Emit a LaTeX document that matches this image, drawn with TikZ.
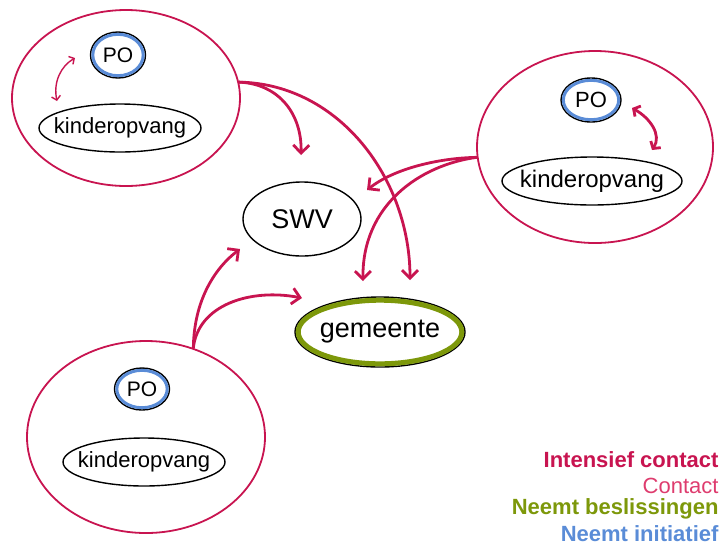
\documentclass[tikz,border=0pt]{standalone}
\usepackage{fontspec}
\setmainfont{Liberation Sans}
\usetikzlibrary{shapes.geometric,arrows.meta}
\definecolor{crim}{RGB}{200,20,80}
\definecolor{lcrim}{RGB}{222,60,110}
\definecolor{olivegreen}{RGB}{125,152,10}
\definecolor{poblue}{RGB}{90,140,215}
\begin{document}
\begin{tikzpicture}[x=1pt,y=-1pt,
  group/.style={ellipse, draw=crim, line width=1.8pt, inner sep=0pt},
  actor/.style={ellipse, draw=black, line width=1.4pt, inner sep=0pt},
  poring/.style={poblue, line width=3pt},
  gemring/.style={olivegreen, line width=5pt},
  conn/.style={crim, line width=2.8pt, line cap=round, -{Straight Barb[length=8pt,width=16pt]}},
  thinconn/.style={crim, line width=1.4pt, line cap=round, {Straight Barb[length=4pt,width=9pt]}-{Straight Barb[length=4pt,width=9pt]}},
  thickconn/.style={crim, line width=2.8pt, line cap=round, {Straight Barb[length=5pt,width=12pt]}-{Straight Barb[length=5pt,width=12pt]}},
  legend/.style={anchor=base east, font=\fontsize{22}{24}\selectfont}
]
\useasboundingbox (0,0) rectangle (722,547);

% group ellipses
\node[group, minimum width=228, minimum height=176] (tl) at (126,98) {};
\node[group, minimum width=236, minimum height=192] (tr) at (595,147) {};
\node[group, minimum width=238, minimum height=192] (bl) at (146,437) {};

% PO nodes
\node[actor, minimum width=55, minimum height=46, font=\fontsize{21}{24}\selectfont] (p1) at (118,55) {PO};
\draw[poring] (p1.center) ellipse [x radius=25.2pt, y radius=20.7pt];
\node[actor, minimum width=60, minimum height=44, font=\fontsize{22}{24}\selectfont] (p2) at (591,100) {PO};
\draw[poring] (p2.center) ellipse [x radius=27.7pt, y radius=19.7pt];
\node[actor, minimum width=55, minimum height=42, font=\fontsize{21}{24}\selectfont] (p3) at (142,389) {PO};
\draw[poring] (p3.center) ellipse [x radius=25.2pt, y radius=18.7pt];

% kinderopvang nodes
\node[actor, inner xsep=-9pt, minimum width=162, minimum height=48, font=\fontsize{22}{24}\selectfont] (k1) at (120,128) {kinderopvang};
\node[actor, inner xsep=-10pt, minimum width=180, minimum height=48, font=\fontsize{24}{26}\selectfont] (k2) at (592,181) {kinderopvang};
\node[actor, inner xsep=-9pt, minimum width=162, minimum height=48, font=\fontsize{22}{24}\selectfont] (k3) at (144,462) {kinderopvang};

% central nodes
\node[actor, minimum width=118, minimum height=74, font=\fontsize{27}{30}\selectfont] (swv) at (302,219) {SWV};
\node[actor, inner xsep=-3pt, minimum width=170, minimum height=70, font=\fontsize{27}{30}\selectfont] (gem) at (380,332) {gemeente};
\draw[gemring] (gem.center) ellipse [x radius=81.8pt, y radius=31.8pt];

% free arrow ends
\coordinate (e1) at (301,155);
\coordinate (e2) at (410,280);
\coordinate (e3) at (367,190);
\coordinate (e4) at (363,281);
\coordinate (e5) at (240,249);
\coordinate (e6) at (302,298);
\coordinate (s1) at (tl.8);
\coordinate (s2) at (tr.185);
\coordinate (s3) at (bl.62);

% connectors
\draw[conn] (s1) .. controls (280,84) and (302,115) .. (e1);
\draw[conn] (s1) .. controls (340,84) and (410,180) .. (e2);
\draw[conn] (s2) .. controls (440,158) and (395,168) .. (e3);
\draw[conn] (s2) .. controls (420,165) and (362,205) .. (e4);
\draw[conn] (s3) .. controls (194,300) and (215,268) .. (e5);
\draw[conn] (s3) .. controls (198,305) and (250,288) .. (e6);

% internal arrows
\coordinate (i1a) at (57,101);
\coordinate (i1b) at (75,58);
\draw[thinconn] (i1a) .. controls (53,82) and (61,66) .. (i1b);
\coordinate (i2a) at (632,108);
\coordinate (i2b) at (652,150);
\draw[thickconn] (i2a) .. controls (650,118) and (662,135) .. (i2b);

% legend
\node[legend, crim, font=\fontsize{22}{24}\selectfont\bfseries] (l1) at (722,467) {Intensief contact};
\node[legend, lcrim] (l2) at (722,493) {Contact};
\node[legend, olivegreen, font=\fontsize{22}{24}\selectfont\bfseries] (l3) at (722,514) {Neemt beslissingen};
\node[legend, poblue, font=\fontsize{22}{24}\selectfont\bfseries] (l4) at (722,541) {Neemt initiatief};
\end{tikzpicture}
\end{document}
